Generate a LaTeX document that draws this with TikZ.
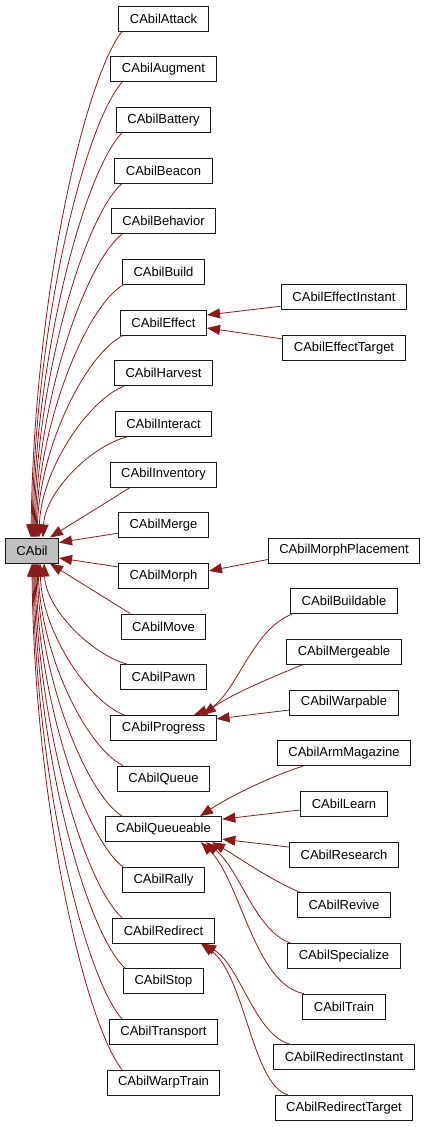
\documentclass[tikz,border=0pt]{standalone}
\usepackage{fontspec}
\setmainfont{Liberation Sans}
\usetikzlibrary{arrows.meta}
\definecolor{herencia}{HTML}{8B1A1A}
\definecolor{grisraiz}{HTML}{BFBFBF}

\begin{document}
\begin{tikzpicture}[x=1pt, y=-1pt,
    clase/.style={draw=black!90, line width=1pt, fill=white, inner xsep=11pt,
        minimum height=25pt, font=\fontsize{13pt}{15pt}\selectfont},
    hereda/.style={draw=herencia, line width=0.8pt, -{Triangle[length=13pt, width=10pt]}}]
    \useasboundingbox (0,0) rectangle (425,1127);

    % ---- Clase base ----
    \node[clase, fill=grisraiz] (cabil) at (32, 550.5) {CAbil};

    % ---- Primer nivel (columna central) ----
    \node[clase] (attack)    at (163.5, 18.5)   {CAbilAttack};
    \node[clase] (augment)   at (163.5, 69.2)   {CAbilAugment};
    \node[clase] (battery)   at (163.5, 119.8)  {CAbilBattery};
    \node[clase] (beacon)    at (163.5, 170.5)  {CAbilBeacon};
    \node[clase] (behavior)  at (163.5, 221.2)  {CAbilBehavior};
    \node[clase] (build)     at (163.5, 271.9)  {CAbilBuild};
    \node[clase] (effect)    at (163.5, 322.5)  {CAbilEffect};
    \node[clase] (harvest)   at (163.5, 373.2)  {CAbilHarvest};
    \node[clase] (interact)  at (163.5, 423.9)  {CAbilInteract};
    \node[clase] (inventory) at (163.5, 474.5)  {CAbilInventory};
    \node[clase] (merge)     at (163.5, 525.2)  {CAbilMerge};
    \node[clase] (morph)     at (163.5, 575.9)  {CAbilMorph};
    \node[clase] (move)      at (163.5, 626.5)  {CAbilMove};
    \node[clase] (pawn)      at (163.5, 677.2)  {CAbilPawn};
    \node[clase] (progress)  at (163.5, 727.9)  {CAbilProgress};
    \node[clase] (queue)     at (163.5, 778.6)  {CAbilQueue};
    \node[clase] (queueable) at (163.5, 829.2)  {CAbilQueueable};
    \node[clase] (rally)     at (163.5, 879.9)  {CAbilRally};
    \node[clase] (redirect)  at (163.5, 930.6)  {CAbilRedirect};
    \node[clase] (stop)      at (163.5, 981.2)  {CAbilStop};
    \node[clase] (transport) at (163.5, 1031.9) {CAbilTransport};
    \node[clase] (warptrain) at (163.5, 1082.6) {CAbilWarpTrain};

    % ---- Segundo nivel (columna derecha) ----
    \node[clase] (effectinstant)   at (344, 297.2)  {CAbilEffectInstant};
    \node[clase] (effecttarget)    at (344, 347.9)  {CAbilEffectTarget};
    \node[clase] (morphplacement)  at (344, 550.5)  {CAbilMorphPlacement};
    \node[clase] (buildable)       at (344, 601.2)  {CAbilBuildable};
    \node[clase] (mergeable)       at (344, 651.9)  {CAbilMergeable};
    \node[clase] (warpable)        at (344, 702.5)  {CAbilWarpable};
    \node[clase] (armmagazine)     at (344, 753.2)  {CAbilArmMagazine};
    \node[clase] (learn)           at (344, 803.9)  {CAbilLearn};
    \node[clase] (research)        at (344, 854.6)  {CAbilResearch};
    \node[clase] (revive)          at (344, 905.2)  {CAbilRevive};
    \node[clase] (specialize)      at (344, 955.9)  {CAbilSpecialize};
    \node[clase] (train)           at (344, 1006.6) {CAbilTrain};
    \node[clase] (redirectinstant) at (344, 1057.2) {CAbilRedirectInstant};
    \node[clase] (redirecttarget)  at (344, 1107.9) {CAbilRedirectTarget};

    % ---- Herencia: hijos de arriba -> CAbil ----
    \draw[hereda] (attack.south -| 122,0) .. controls (84,80) and (34,300) .. (cabil.north -| 31,0);
    \draw[hereda] (augment.south -| 122,0) .. controls (84,126) and (35,325) .. (cabil.north -| 32,0);
    \draw[hereda] (battery.south -| 122,0) .. controls (85,171) and (36,350) .. (cabil.north -| 33,0);
    \draw[hereda] (beacon.south -| 122,0) .. controls (85,216) and (37,374) .. (cabil.north -| 34,0);
    \draw[hereda] (behavior.south -| 122,0) .. controls (86,262) and (38,398) .. (cabil.north -| 35,0);
    \draw[hereda] (build.south -| 123,0) .. controls (86,307) and (39,422) .. (cabil.north -| 36,0);
    \draw[hereda] (effect.south -| 123,0) .. controls (86,354) and (40,446) .. (cabil.north -| 37,0);
    \draw[hereda] (harvest.south -| 124,0) .. controls (88,400) and (41,470) .. (cabil.north -| 39,0);
    \draw[hereda] (interact.south -| 127,0) .. controls (91,446) and (45,492) .. (cabil.north -| 43,0);
    \draw[hereda] (inventory.south -| 130,0) .. controls (104,504) and (76,521) .. (cabil.north -| 50,0);

    % ---- laterales ----
    \draw[hereda] ([yshift=-8pt]merge.west) -- ([yshift=8pt]cabil.east);
    \draw[hereda] ([yshift=9pt]morph.west) -- ([yshift=-7.5pt]cabil.east);

    % ---- Herencia: hijos de abajo -> CAbil ----
    \draw[hereda] (move.north -| 130,0) .. controls (104,597) and (76,580) .. (cabil.south -| 50,0);
    \draw[hereda] (pawn.north -| 127,0) .. controls (91,654) and (46,609) .. (cabil.south -| 44,0);
    \draw[hereda] (progress.north -| 124,0) .. controls (88,701) and (42,632) .. (cabil.south -| 40,0);
    \draw[hereda] (queue.north -| 123,0) .. controls (86,747) and (41,655) .. (cabil.south -| 38,0);
    \draw[hereda] (queueable.north -| 122,0) .. controls (86,793) and (40,678) .. (cabil.south -| 37,0);
    \draw[hereda] (rally.north -| 123,0) .. controls (86,839) and (38,702) .. (cabil.south -| 36,0);
    \draw[hereda] (redirect.north -| 122,0) .. controls (85,885) and (37,725) .. (cabil.south -| 35,0);
    \draw[hereda] (stop.north -| 125,0) .. controls (85,930) and (36,750) .. (cabil.south -| 34,0);
    \draw[hereda] (transport.north -| 122,0) .. controls (84,976) and (35,775) .. (cabil.south -| 33,0);
    \draw[hereda] (warptrain.north -| 122,0) .. controls (84,1021) and (34,800) .. (cabil.south -| 32,0);

    % ---- Segundo nivel -> primer nivel ----
    \draw[hereda] ([yshift=-9pt]effectinstant.west) -- ([yshift=7.5pt]effect.east);
    \draw[hereda] ([yshift=9pt]effecttarget.west) -- ([yshift=-5.5pt]effect.east);
    \draw[hereda] ([yshift=-9pt]morphplacement.west) -- ([yshift=5pt]morph.east);

    \draw[hereda] (buildable.south -| 292,0) .. controls (250,630) and (235,700) .. (progress.north -| 194,0);
    \draw[hereda] (mergeable.south -| 302,0) .. controls (270,678) and (230,695) .. (progress.north -| 203,0);
    \draw[hereda] ([yshift=-7.5pt]warpable.west) -- ([yshift=9pt]progress.east);

    \draw[hereda] (armmagazine.south -| 303,0) .. controls (280,773) and (235,793) .. (queueable.north -| 200,0);
    \draw[hereda] ([yshift=-6pt]learn.west) -- ([yshift=10pt]queueable.east);
    \draw[hereda] ([yshift=7.5pt]research.west) -- ([yshift=-10pt]queueable.east);
    \draw[hereda] (revive.north -| 300,0) .. controls (270,880) and (235,855) .. (queueable.south -| 212,0);
    \draw[hereda] (specialize.north -| 290,0) .. controls (255,930) and (240,870) .. (queueable.south -| 206,0);
    \draw[hereda] (train.north -| 304,0) .. controls (255,985) and (240,880) .. (queueable.south -| 201,0);

    \draw[hereda] (redirectinstant.north -| 290,0) .. controls (255,1035) and (240,965) .. (redirect.south -| 203,0);
    \draw[hereda] (redirecttarget.north -| 288,0) .. controls (252,1085) and (245,975) .. (redirect.south -| 201,0);
\end{tikzpicture}
\end{document}
